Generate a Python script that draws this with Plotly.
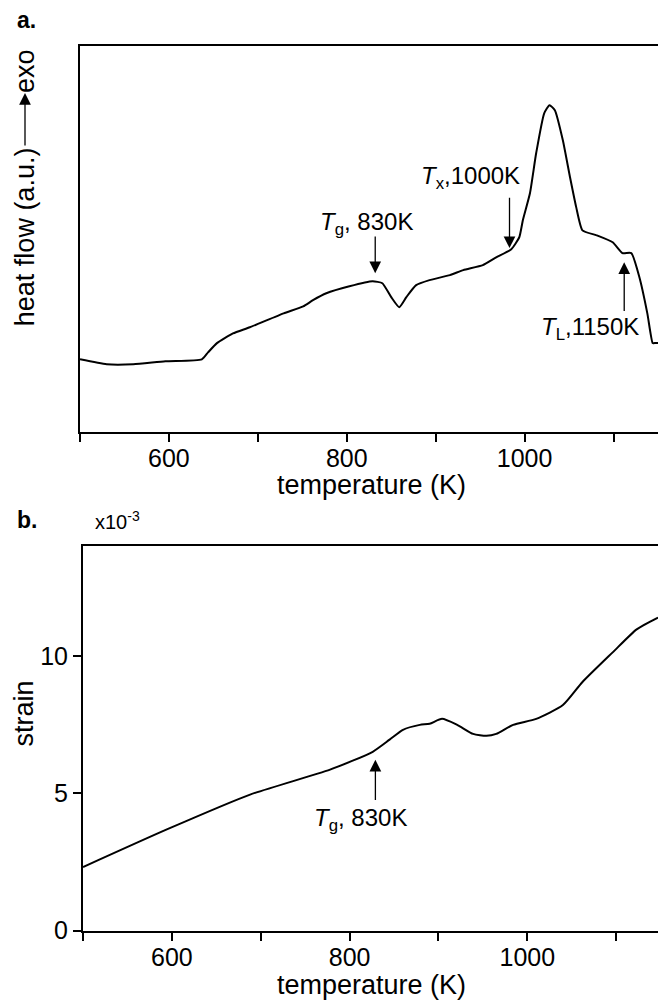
import plotly.graph_objects as go

# Panel a: DSC trace (heat flow, arbitrary units) vs temperature
temp_a = [500, 530, 560, 596, 637, 644, 654, 672, 691, 729, 751, 762, 777, 803, 829, 840,
          850, 859, 867, 878, 893, 916, 931, 953, 968, 985, 994, 998, 1006, 1013, 1022, 1028,
          1034, 1043, 1051, 1058, 1065, 1081, 1099, 1110, 1120, 1129, 1138, 1144, 1146, 1150]
heat_a = [1.89, 1.76, 1.76, 1.84, 1.89, 2.07, 2.31, 2.56, 2.72, 3.08, 3.26, 3.42, 3.60, 3.78, 3.91, 3.86,
          3.50, 3.24, 3.50, 3.81, 3.94, 4.07, 4.20, 4.33, 4.53, 4.74, 5.05, 5.49, 6.19, 7.23, 8.26, 8.47,
          8.34, 7.56, 6.61, 5.83, 5.23, 5.10, 4.92, 4.64, 4.64, 4.02, 3.08, 2.31, 2.31, 2.31]

# Panel b: dilatometric strain (x10^-3) vs temperature
temp_b = [500, 595, 688, 778, 826, 845, 860, 879, 890, 904, 921, 939, 954, 965, 984, 1010,
          1040, 1062, 1096, 1123, 1147]
strain_b = [2.32, 3.70, 4.96, 5.87, 6.52, 6.96, 7.32, 7.50, 7.54, 7.72, 7.50, 7.17, 7.10, 7.17, 7.50, 7.72,
            8.22, 9.06, 10.14, 10.98, 11.41]

# Characteristic temperature markers: (label, arrow x, arrow tail y, arrow tip y, label x, label y)
marks_a = [
    ("<i>T</i><sub>g</sub>, 830K", 832, 5.11, 4.12, 822, 5.40),
    ("<i>T</i><sub>x</sub>,1000K", 983, 6.11, 4.77, 939, 6.60),
    ("<i>T</i><sub>L</sub>,1150K", 1112, 3.10, 4.40, 1074, 2.70),
]
marks_b = [
    ("<i>T</i><sub>g</sub>, 830K", 829, 4.71, 6.23, 812, 4.05),
]

x_ticks = [500, 600, 700, 800, 900, 1000, 1100]
x_ticktext = ["", "600", "", "800", "", "1000", ""]
y_ticks_b = [0, 5, 10]

FONT = "Liberation Sans, Arial, sans-serif"
fs_tick = 25
fs_title = 27

W, H = 658, 1000
Y_STRETCH = 1.015  # page is saved a little taller than the figure; keep vertical layout in pixels


def px_x(px):
    return px / W


def px_y(py):
    return 1 - py * Y_STRETCH / H


fig = go.Figure()
fig.add_trace(go.Scatter(x=temp_a, y=heat_a, mode="lines", xaxis="x", yaxis="y",
                         line=dict(color="black", width=2, shape="spline", smoothing=0.5),
                         showlegend=False))
fig.add_trace(go.Scatter(x=temp_b, y=strain_b, mode="lines", xaxis="x2", yaxis="y2",
                         line=dict(color="black", width=2, shape="spline", smoothing=0.6),
                         showlegend=False))

axis_common = dict(showgrid=False, zeroline=False, linecolor="black", linewidth=2,
                   ticks="outside", ticklen=8, tickwidth=2, tickcolor="black",
                   tickfont=dict(family=FONT, size=fs_tick, color="black"))

fig.update_layout(
    width=W, height=H,
    margin=dict(l=0, r=0, t=0, b=0, pad=0),
    paper_bgcolor="white", plot_bgcolor="white",
    font=dict(family=FONT, size=fs_tick, color="black"),
    xaxis=dict(domain=[px_x(80), 1], range=[500, 1150], anchor="y", mirror=True,
               tickvals=x_ticks, ticktext=x_ticktext, ticklabelstandoff=-5, **axis_common),
    yaxis=dict(domain=[px_y(432), px_y(46)], range=[0, 10], anchor="x", showticklabels=False,
               showgrid=False, zeroline=False, linecolor="black", linewidth=2, ticks=""),
    xaxis2=dict(domain=[px_x(83), 1], range=[500, 1147], anchor="y2", mirror=True,
                tickvals=x_ticks, ticktext=x_ticktext, ticklabelstandoff=-5, **axis_common),
    yaxis2=dict(domain=[px_y(930), px_y(546)], range=[0, 14], anchor="x2",
                tickvals=y_ticks_b, ticktext=[str(v) for v in y_ticks_b], **axis_common),
)

ann = []
lbl = dict(family=FONT, size=24, color="black")
arrow_style = dict(showarrow=True, arrowhead=2, arrowsize=1.8, arrowwidth=1.3, arrowcolor="black", text="")

for text, ax_x, tail, tip, lx, ly in marks_a:
    ann.append(dict(x=ax_x, y=tip, ax=ax_x, ay=tail, xref="x", yref="y", axref="x", ayref="y",
                    **arrow_style))
    ann.append(dict(x=lx, y=ly, xref="x", yref="y", text=text, showarrow=False, font=lbl,
                    xanchor="center", yanchor="middle"))

for text, ax_x, tail, tip, lx, ly in marks_b:
    ann.append(dict(x=ax_x, y=tip, ax=ax_x, ay=tail, xref="x2", yref="y2", axref="x2", ayref="y2",
                    **arrow_style))
    ann.append(dict(x=lx, y=ly, xref="x2", yref="y2", text=text, showarrow=False, font=lbl,
                    xanchor="center", yanchor="middle"))


def paper_text(px, py, text, size, angle=0):
    return dict(x=px_x(px), y=px_y(py), xref="paper", yref="paper", text=text,
                textangle=angle, showarrow=False, xanchor="center", yanchor="middle",
                font=dict(family=FONT, size=size, color="black"))


# axis titles and panel letters
ann += [
    paper_text(371, 485, "temperature (K)", fs_title),
    paper_text(371, 984, "temperature (K)", fs_title),
    paper_text(25, 237, "heat flow (a.u.)", fs_title, -90),
    paper_text(25, 71, "exo", fs_title, -90),
    paper_text(24, 713, "strain", fs_title, -90),
    paper_text(117, 520, "x10<sup>-3</sup>", 20),
    paper_text(26, 20, "<b>a.</b>", 23),
    paper_text(27, 520, "<b>b.</b>", 23),
    dict(x=px_x(25), y=px_y(93), xref="paper", yref="paper", ax=0, ay=54, **arrow_style),
]
fig.update_layout(annotations=ann)

fig.write_html("out.html")
